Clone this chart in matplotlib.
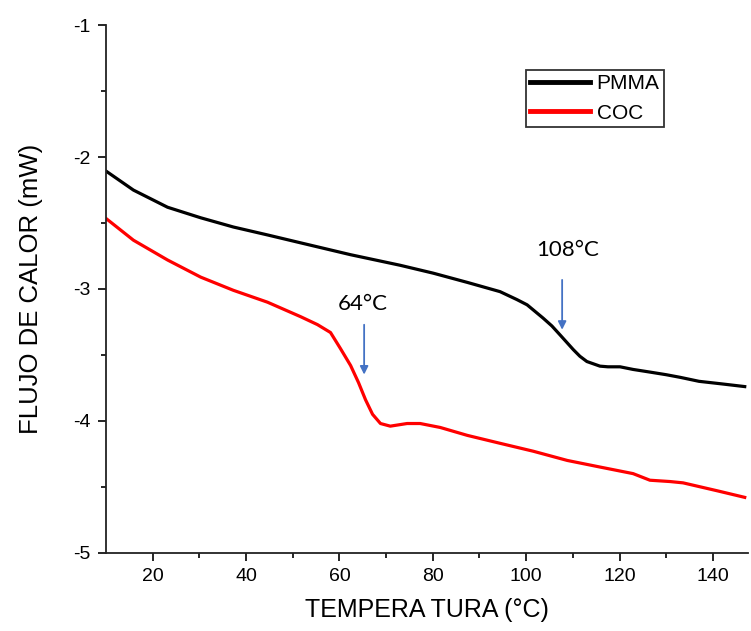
import matplotlib
matplotlib.use("Agg")
import matplotlib.pyplot as plt

# PMMA curve
pmma_t = [10.2, 15.9, 23.2, 30.3, 37.3, 44.6, 51.7, 62.4, 73.0, 80.1, 87.4, 94.4, 98.0, 100.2, 103.6, 105.5,
          107.3, 110.1, 111.5, 113.0, 115.8, 117.5, 120.1, 122.9, 126.5, 130.0, 133.0, 137.0, 142.0, 146.8]
pmma_q = [-2.11, -2.25, -2.38, -2.46, -2.53, -2.59, -2.65, -2.74, -2.82, -2.88, -2.95, -3.02, -3.08, -3.12, -3.22, -3.28,
          -3.35, -3.46, -3.51, -3.55, -3.585, -3.59, -3.59, -3.61, -3.63, -3.65, -3.67, -3.70, -3.72, -3.74]

# COC curve
coc_t = [10.2, 15.9, 23.2, 30.3, 37.3, 44.6, 51.7, 55.3, 58.1, 60.2, 62.4, 64.1, 65.6, 67.1, 68.8, 70.9, 74.5,
         77.3, 81.6, 87.4, 94.4, 101.5, 108.8, 115.8, 122.9, 126.5, 130.8, 133.6, 140.9, 146.8]
coc_q = [-2.47, -2.63, -2.78, -2.91, -3.01, -3.10, -3.21, -3.27, -3.33, -3.45, -3.58, -3.71, -3.84, -3.95, -4.02, -4.04, -4.02,
         -4.02, -4.05, -4.11, -4.17, -4.23, -4.30, -4.35, -4.40, -4.45, -4.46, -4.47, -4.53, -4.58]

tg_labels = ["64°C", "108°C"]
tg_pos = [65.3, 107.7]

fig = plt.figure(figsize=(7.51, 6.31), dpi=100)
ax = fig.add_axes([0.141, 0.124, 0.855, 0.836])

ax.plot(pmma_t, pmma_q, color="black", lw=2.3, label="PMMA")
ax.plot(coc_t, coc_q, color="#ff0000", lw=2.3, label="COC")

# arrows + labels for the transitions
arrow_y = [(-3.25, -3.67), (-2.91, -3.33)]
text_x = [65.0, 108.8]
text_y = [-3.16, -2.75]
for lab, x, (y0, y1), tx, ty in zip(tg_labels, tg_pos, arrow_y, text_x, text_y):
    ax.annotate("", xy=(x, y1), xytext=(x, y0),
                arrowprops=dict(arrowstyle="-|>", color="#4472C4", lw=1.3, mutation_scale=12))
    ax.text(tx, ty, lab, ha="center", va="baseline", fontsize=16, family="Lato")

ax.set_xlim(10, 147.5)
ax.set_ylim(-5, -1)
ax.set_xticks([20, 40, 60, 80, 100, 120, 140])
ax.set_xticks([30, 50, 70, 90, 110, 130], minor=True)
ax.set_yticks([-5, -4, -3, -2, -1])
ax.set_yticks([-4.5, -3.5, -2.5, -1.5], minor=True)
ax.set_yticklabels(["-5", "-4", "-3", "-2", "-1"])

for s in ["top", "right"]:
    ax.spines[s].set_visible(False)
for s in ["left", "bottom"]:
    ax.spines[s].set_linewidth(1.3)
    ax.spines[s].set_color("#222222")

ax.tick_params(which="major", direction="out", length=6, width=1.2, labelsize=14, pad=5)
ax.tick_params(which="minor", direction="out", length=3.5, width=1.2)
for t in ax.get_xticklabels() + ax.get_yticklabels():
    t.set_family("Liberation Sans")

ax.set_xlabel("TEMPERA TURA (°C)", fontsize=18, family="Liberation Sans", labelpad=9)
ax.set_ylabel("FLUJO DE CALOR (mW)", fontsize=18.5, family="Liberation Sans", labelpad=22)

leg = ax.legend(loc="upper left", bbox_to_anchor=(0.654, 0.915),
                prop={"family": "Liberation Sans", "size": 15},
                frameon=True, fancybox=False, edgecolor="black", handlelength=2.9,
                handletextpad=0.3, borderpad=0.2, labelspacing=0.5, borderaxespad=0)
leg.get_frame().set_linewidth(1.3)
for ln in leg.get_lines():
    ln.set_linewidth(3.5)

fig.savefig("out.png", dpi=100)
